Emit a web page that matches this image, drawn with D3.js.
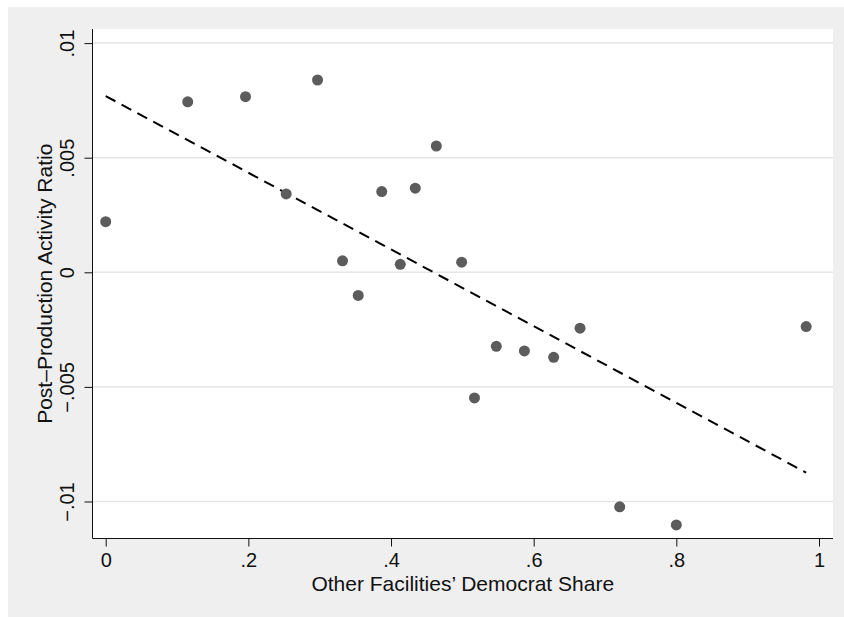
<!DOCTYPE html>
<html>
<head>
<meta charset="utf-8">
<script src="https://cdn.jsdelivr.net/npm/d3@7"></script>
<style>
  html, body { margin: 0; padding: 0; background: white; overflow: hidden; }
  svg { display: block; }
  text { font-family: "Liberation Sans", Arial, Helvetica, sans-serif; fill: #111; }
</style>
</head>
<body>
<div id="container"></div>
<script>
// democrat share of the other facilities (x) and the post-production ratio (y)
const demShare = [0, 0.115, 0.196, 0.297, 0.253, 0.332, 0.354, 0.387, 0.413, 0.434,
                  0.4635, 0.499, 0.517, 0.5476, 0.587, 0.628, 0.665, 0.7206, 0.800, 0.982];
const activityRatio = [0.00221, 0.00744, 0.00766, 0.00839, 0.00342, 0.00050, -0.00101, 0.00352, 0.00035, 0.00367,
                       0.00551, 0.00044, -0.00548, -0.00323, -0.00343, -0.00371, -0.00244, -0.01023, -0.01102, -0.00237];

// ends of the fitted line
const fitX = [0, 0.982];
const fitY = [0.00769, -0.00874];

// tick values and their labels
const xTicks = [0, 0.2, 0.4, 0.6, 0.8, 1];
const xTickLabels = ["0", ".2", ".4", ".6", ".8", "1"];
const yTicks = [0.01, 0.005, 0, -0.005, -0.01];
const yTickLabels = [".01", ".005", "0", "\u2212.005", "\u2212.01"];

const xTitle = "Other Facilities\u2019 Democrat Share";
const yTitle = "Post\u2013Production Activity Ratio";

function drawChart(){
    const width = 844;
    const height = 617;

    // plot region edges
    const left = 92.5;
    const right = 833;
    const top = 29;
    const bottom = 538.5;

    const xScale = d3.scaleLinear()
        .domain([0, 1])
        .range([105.7, 819]);

    const yScale = d3.scaleLinear()
        .domain([-0.01, 0.01])
        .range([501.5, 43.1]);

    const svg = d3.select("#container")
        .append("svg")
        .attr("width", width)
        .attr("height", height);

    // grey outer background
    svg.append("rect")
        .attr("x", 8)
        .attr("y", 7)
        .attr("width", width - 8)
        .attr("height", height - 7)
        .attr("fill", "#efefef");

    // white plot region
    svg.append("rect")
        .attr("x", left)
        .attr("y", top)
        .attr("width", right - left)
        .attr("height", bottom - top)
        .attr("fill", "white");

    // horizontal grid lines
    svg.append("g")
        .selectAll("line")
        .data(yTicks)
        .join("line")
        .attr("x1", left)
        .attr("x2", right)
        .attr("y1", d => yScale(d))
        .attr("y2", d => yScale(d))
        .attr("stroke", "#e6e6e6")
        .attr("stroke-width", 1.5);

    // left axis
    const yAxis = svg.append("g")
        .attr("transform", `translate(${left},0)`)
        .call(d3.axisLeft(yScale)
            .tickValues(yTicks)
            .tickFormat((d, i) => yTickLabels[i])
            .tickSizeInner(8)
            .tickSizeOuter(0));
    yAxis.select(".domain").attr("d", `M0,${top}V${bottom}`).attr("stroke", "#111");
    yAxis.selectAll(".tick line").attr("stroke", "#111");
    yAxis.selectAll(".tick text")
        .attr("x", null)
        .attr("dy", null)
        .attr("transform", "translate(-19,0) rotate(-90)")
        .attr("text-anchor", "middle")
        .attr("font-size", 20)
        .attr("fill", "#111");

    // bottom axis
    const xAxis = svg.append("g")
        .attr("transform", `translate(0,${bottom})`)
        .call(d3.axisBottom(xScale)
            .tickValues(xTicks)
            .tickFormat((d, i) => xTickLabels[i])
            .tickSizeInner(8)
            .tickSizeOuter(0));
    xAxis.select(".domain").attr("d", `M${left},0H${right}`).attr("stroke", "#111");
    xAxis.selectAll(".tick line").attr("stroke", "#111");
    xAxis.selectAll(".tick text")
        .attr("y", 28)
        .attr("dy", null)
        .attr("font-size", 20)
        .attr("fill", "#111");

    // axis titles
    svg.append("text")
        .attr("x", (left + right) / 2)
        .attr("y", 591)
        .attr("text-anchor", "middle")
        .attr("font-size", 21)
        .text(xTitle);

    svg.append("text")
        .attr("transform", `translate(52,${(top + bottom) / 2}) rotate(-90)`)
        .attr("text-anchor", "middle")
        .attr("font-size", 21)
        .text(yTitle);

    // fitted line, dashed
    svg.append("line")
        .attr("x1", xScale(fitX[0]))
        .attr("y1", yScale(fitY[0]))
        .attr("x2", xScale(fitX[1]))
        .attr("y2", yScale(fitY[1]))
        .attr("stroke", "black")
        .attr("stroke-width", 2)
        .attr("stroke-dasharray", "11,7");

    // the points
    svg.append("g")
        .selectAll("circle")
        .data(demShare)
        .join("circle")
        .attr("cx", d => xScale(d))
        .attr("cy", (d, i) => yScale(activityRatio[i]))
        .attr("r", 5.5)
        .attr("fill", "#5c5c5c");
};

drawChart();
</script>
</body>
</html>
